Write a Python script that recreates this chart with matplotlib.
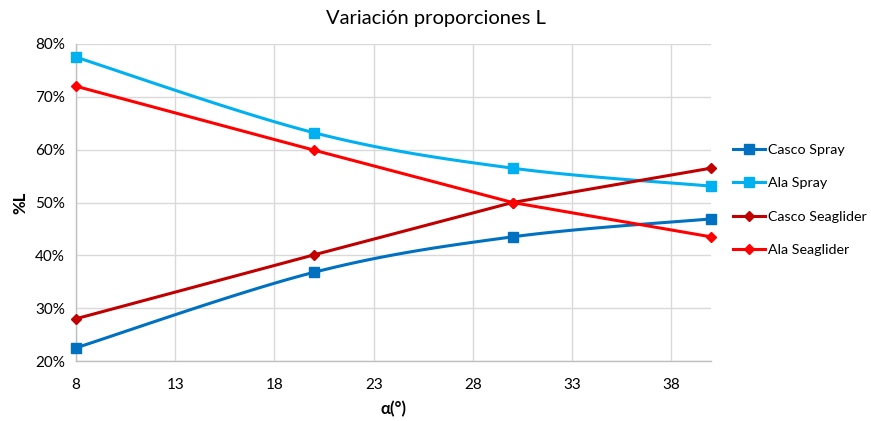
import numpy as np
import matplotlib
matplotlib.use("Agg")
import matplotlib.pyplot as plt
from matplotlib.ticker import FuncFormatter, MultipleLocator

plt.rcParams['font.family'] = ['Lato', 'DejaVu Sans']

# Data
alpha = [8, 20, 30, 40]
casco_spray = [22.5, 36.8, 43.5, 46.9]
ala_spray = [77.5, 63.2, 56.5, 53.1]
casco_seaglider = [28.0, 40.1, 50.0, 56.5]
ala_seaglider = [72.0, 59.9, 50.0, 43.5]
x_ticks = [8, 13, 18, 23, 28, 33, 38]


def smooth(xs, ys, n=40):
    """Catmull-Rom style smoothing through the points (like spreadsheet smoothed lines)."""
    xs = np.asarray(xs, float)
    ys = np.asarray(ys, float)
    px = np.concatenate([[xs[0]], xs, [xs[-1]]])
    py = np.concatenate([[ys[0]], ys, [ys[-1]]])
    out_x, out_y = [], []
    for i in range(1, len(px) - 2):
        p0 = np.array([px[i - 1], py[i - 1]])
        p1 = np.array([px[i], py[i]])
        p2 = np.array([px[i + 1], py[i + 1]])
        p3 = np.array([px[i + 2], py[i + 2]])
        c1 = p1 + (p2 - p0) / 6.0
        c2 = p2 - (p3 - p1) / 6.0
        t = np.linspace(0, 1, n)[:, None]
        b = ((1 - t) ** 3) * p1 + 3 * ((1 - t) ** 2) * t * c1 + 3 * (1 - t) * t ** 2 * c2 + t ** 3 * p2
        out_x.extend(b[:, 0])
        out_y.extend(b[:, 1])
    return np.array(out_x), np.array(out_y)


fig = plt.figure(figsize=(8.71, 4.21), dpi=100)
ax = fig.add_axes([0.0873, 0.1425, 0.729, 0.753])

series = [
    ("Casco Spray", casco_spray, "#0070C0", "s", True),
    ("Ala Spray", ala_spray, "#00B0F0", "s", True),
    ("Casco Seaglider", casco_seaglider, "#C00000", "D", False),
    ("Ala Seaglider", ala_seaglider, "#FF0000", "D", False),
]

handles = []
for name, vals, color, marker, smoothed in series:
    if smoothed:
        sx, sy = smooth(alpha, vals)
    else:
        sx, sy = alpha, vals
    ms = 6.5 if marker == 's' else 5.5
    ax.plot(sx, sy, color=color, lw=2.2, zorder=3, solid_capstyle='round')
    ax.plot(alpha, vals, linestyle='none', marker=marker, color=color,
            markersize=ms, zorder=4, clip_on=False)
    h, = ax.plot([], [], color=color, lw=2.2, marker=marker, markersize=ms, label=name)
    handles.append(h)

ax.set_xlim(8, 40)
ax.set_ylim(20, 80)
ax.set_xticks(x_ticks)
ax.yaxis.set_major_locator(MultipleLocator(10))
ax.yaxis.set_major_formatter(FuncFormatter(lambda v, p: f"{v:.0f}%"))

ax.grid(True, color="#D9D9D9", lw=1)
ax.set_axisbelow(True)
for side in ("top", "right"):
    ax.spines[side].set_visible(False)
for side in ("left", "bottom"):
    ax.spines[side].set_color("#BFBFBF")
    ax.spines[side].set_linewidth(1)
ax.tick_params(axis='both', length=0, labelsize=11, colors="#000000", pad=8)
ax.tick_params(axis='x', pad=12)

ax.set_xlabel("α(°)", fontsize=12, fontweight='bold', labelpad=7)
ax.set_ylabel("%L", fontsize=12, fontweight='bold', labelpad=5)
fig.text(0.5, 0.955, "Variación proporciones L", ha='center', va='center', fontsize=14.5)

fig.legend(handles=handles, loc='center left', bbox_to_anchor=(0.8416, 0.525),
           frameon=False, fontsize=10.3, handlelength=2.25, labelspacing=1.48,
           handletextpad=0.2, borderaxespad=0, borderpad=0)

fig.savefig("out.png", dpi=100)
